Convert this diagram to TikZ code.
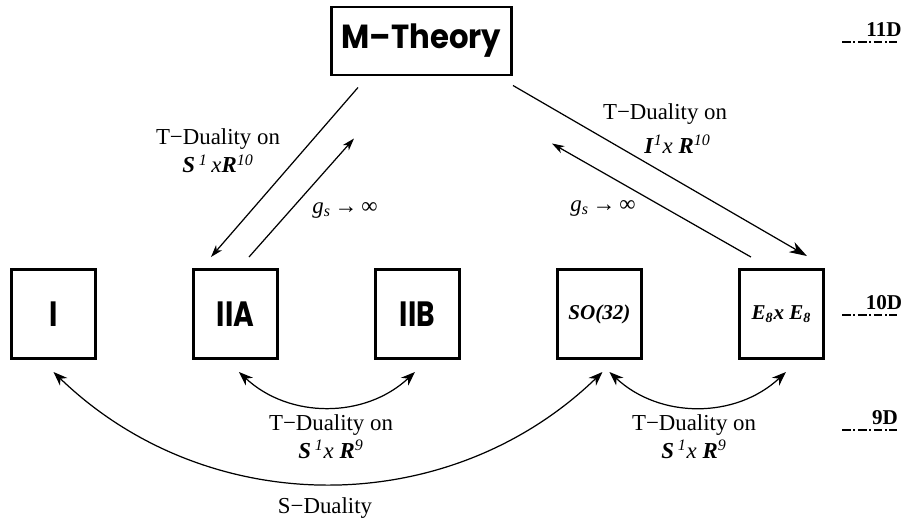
\documentclass[tikz,border=0pt]{standalone}
\usepackage{fontspec}
\usepackage{graphicx}
\setmainfont{Liberation Serif}
\newfontfamily\boxfont{Poppins}
\usetikzlibrary{positioning, arrows.meta, calc}
\tikzset{>={Stealth[length=8pt,width=6pt,inset=2.5pt]}}
\tikzset{
  theory/.style={rectangle, draw=black, line width=1.7pt, minimum width=1.68cm, minimum height=1.78cm, align=center, inner sep=0pt, font=\boxfont\bfseries\fontsize{20}{20}\selectfont},
  group/.style={theory, font=\bfseries\itshape\fontsize{12}{12}\selectfont},
  arrow/.style={->, line width=0.7pt},
  dualarrow/.style={<->, line width=0.7pt},
  dimlabel/.style={font=\bfseries\fontsize{12}{12}\selectfont, inner sep=1pt},
  dimline/.style={line width=1.2pt, dash pattern=on 5pt off 1.5pt on 1pt off 1.5pt}
}
\newcommand{\bi}[1]{\textbf{\textit{#1}}}
\newcommand{\narrow}[2][0.8]{\scalebox{#1}[1]{#2}}

\begin{document}
\begin{tikzpicture}[
    node distance=1.9cm,
    every node/.style={font=\fontsize{13}{16}\selectfont}
]
\useasboundingbox (0,0) rectangle (18.12,-10.44);

% 11D
\node[theory, minimum width=3.6cm, minimum height=1.36cm, font=\boxfont\bfseries\fontsize{19}{19}\selectfont] (mth) at (8.43,-0.82) {\narrow[0.92]{M–Theory}};

% 10D string theories
\node[theory] (i) at (1.07,-6.28) {\narrow{I}};
\node[theory, right=of i] (iia) {\narrow{IIA}};
\node[theory, right=of iia] (iib) {\narrow{IIB}};
\node[group, right=of iib] (so) {SO(32)};
\node[group, right=of so] (ee) {E\textsubscript{8}x E\textsubscript{8}};

% M-Theory links
\draw[arrow, >={Stealth[length=7pt,width=4.5pt,inset=2pt]}] ($(mth.south)+(-1.27,-0.22)$) -- ($(iia.north)+(-0.49,0.22)$);
\draw[arrow, >={Stealth[length=7pt,width=4.5pt,inset=2pt]}] ($(iia.north)+(0.27,0.22)$) -- ($(mth.south)+(-1.35,-1.24)$);
\draw[arrow, >={Stealth[length=10pt,width=6.5pt,inset=3pt]}] ($(mth.south)+(1.83,-0.18)$) -- ($(ee.north)+(0.51,0.24)$);
\draw[arrow, >={Stealth[length=7pt,width=4.5pt,inset=2pt]}] ($(ee.north)+(-0.61,0.22)$) -- ($(mth.south)+(2.61,-1.34)$);

% dualities
\draw[dualarrow] ($(iia.south)+(0.07,-0.24)$) to[bend right=43] ($(iib.south)+(-0.05,-0.24)$);
\draw[dualarrow] ($(so.south)+(0.2,-0.24)$) to[bend right=43] ($(ee.south)+(0.09,-0.24)$);
\draw[dualarrow] ($(i.south)+(0,-0.24)$) to[bend right=44] ($(so.south)+(0.06,-0.24)$);

% labels
\node[align=center] (tdma) at (4.36,-3.02) {T−Duality on\\\bi{S}\,\textsuperscript{\textit{1}}\,\textit{x}\bi{R}\textsuperscript{\textit{10}}};
\node[align=center] (tdme) at (13.3,-2.57) {T−Duality on\\[3pt]\hspace*{0.5cm}\bi{I}\textsuperscript{\textit{1}}\textit{x} \bi{R}\textsuperscript{\textit{10}}};
\node (gsa) at (6.9,-4.2) {\textit{g}\textsubscript{\textit{s}}\,→\,∞};
\node (gse) at (12.06,-4.16) {\textit{g}\textsubscript{\textit{s}}\,→\,∞};
\node[align=center] (tdab) at (6.62,-8.73) {T−Duality on\\\bi{S}\,\textsuperscript{\textit{1}}\textit{x} \bi{R}\textsuperscript{\textit{9}}};
\node[align=center] (tdse) at (13.88,-8.73) {T−Duality on\\\bi{S}\,\textsuperscript{\textit{1}}\textit{x} \bi{R}\textsuperscript{\textit{9}}};
\node (sdual) at (6.5,-10.16) {S−Duality};

% dimensions
\node[dimlabel] (d11) at (17.68,-0.6) {11D};
\node[dimlabel] (d10) at (17.68,-6.06) {10D};
\node[dimlabel] (d9) at (17.7,-8.36) {9D};
\draw[dimline] (16.84,-0.84) -- (17.94,-0.84);
\draw[dimline] (16.84,-6.3) -- (17.94,-6.3);
\draw[dimline] (16.84,-8.6) -- (17.94,-8.6);

\end{tikzpicture}
\end{document}
